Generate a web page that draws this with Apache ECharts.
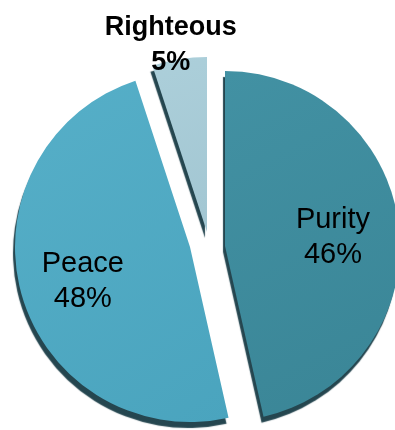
<!DOCTYPE html>
<html>
<head>
<meta charset="utf-8">
<script src="https://cdn.jsdelivr.net/npm/echarts@6/dist/echarts.min.js"></script>
<style>
  html, body { margin: 0; padding: 0; background: #ffffff; }
  #chart { width: 395px; height: 430px; }
</style>
</head>
<body>
<div id="chart"></div>
<script>
// Share of each virtue (percent)
const categories = ['Purity', 'Peace', 'Righteous'];
const shares = [46, 48, 5];

// Look of each slice: a light and a dark end of a soft sheen
const sliceLight = ['#4291a3', '#56afc8', '#accfda'];
const sliceDark = ['#3a8596', '#4aa4be', '#a2c6d2'];
// Every slice is pulled out of the pie on its own, so each gets its own centre
const sliceCenters = [[225, 246], [190, 247], [207, 232]];
// Nudge of each label away from its default inside spot
const labelShifts = [[18, 1.5], [-20, 10], [-22, -98]];
const labelBold = [false, false, true];
const labelSizes = [29, 29, 27];

const chart = echarts.init(document.getElementById('chart'));

function sheen(i) {
  return new echarts.graphic.LinearGradient(0, 0, 1, 1, [
    { offset: 0, color: sliceLight[i] },
    { offset: 1, color: sliceDark[i] }
  ]);
}

const series = categories.map((_, k) => ({
  type: 'pie',
  radius: 175,
  center: sliceCenters[k],
  startAngle: 90,
  clockwise: true,
  silent: true,
  animation: false,
  avoidLabelOverlap: false,
  labelLine: { show: false },
  label: {
    position: 'inside',
    formatter: '{b}\n{c}%',
    color: '#000000',
    fontFamily: 'Liberation Sans, Arial, sans-serif',
    fontSize: labelSizes[k],
    fontWeight: labelBold[k] ? 'bold' : 'normal',
    lineHeight: 35,
    align: 'center'
  },
  labelLayout: { dx: labelShifts[k][0], dy: labelShifts[k][1] },
  emphasis: { disabled: true },
  data: categories.map((name, i) => ({
    name: name,
    value: shares[i],
    itemStyle: i === k ? {
      color: sheen(i),
      shadowColor: 'rgba(25, 60, 70, 0.95)',
      shadowBlur: 1,
      shadowOffsetX: -2,
      shadowOffsetY: 6
    } : {
      color: 'rgba(0,0,0,0)',
      shadowColor: 'rgba(0,0,0,0)',
      shadowBlur: 0
    },
    label: { show: i === k }
  }))
}));

chart.setOption({
  backgroundColor: '#ffffff',
  animation: false,
  series: series
});
</script>
</body>
</html>
